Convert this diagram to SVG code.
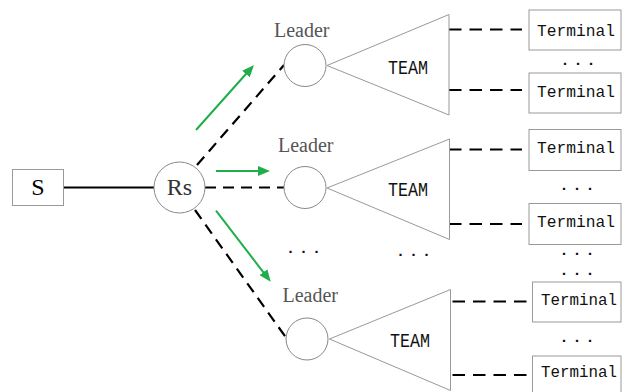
<svg xmlns="http://www.w3.org/2000/svg" width="622" height="392" viewBox="0 0 622 392">
  <style>
    .box { fill: #fff; stroke: #999; stroke-width: 1; }
    .circ { fill: #fff; stroke: #888; stroke-width: 1; }
    .tri { fill: #fff; stroke: #999; stroke-width: 1; }
    .solid { stroke: #000; stroke-width: 2; fill: none; }
    .dash { stroke: #000; stroke-width: 2.2; stroke-dasharray: 11 7; fill: none; }
    .tdash { stroke: #000; stroke-width: 2.2; stroke-dasharray: 12.5 8; fill: none; }
    .flow { stroke: #1fae4b; stroke-width: 2; fill: none; marker-end: url(#head); }
    .term { font-family: "Liberation Mono", monospace; font-size: 16.5px; fill: #111; }
    .team { font-family: "Liberation Mono", monospace; font-size: 20px; fill: #111; text-anchor: middle; }
    .lead { font-family: "Liberation Serif", serif; font-size: 20px; fill: #555; }
    .big { font-family: "Liberation Serif", serif; font-size: 24px; text-anchor: middle; }
    .dots { font-family: "Liberation Mono", monospace; font-size: 15px; letter-spacing: 4px; fill: #111; text-anchor: middle; font-weight: bold; }
  </style>
  <defs>
    <marker id="head" markerUnits="userSpaceOnUse" markerWidth="12" markerHeight="10" refX="2" refY="5" orient="auto">
      <path d="M0,0 L12,5 L0,10 z" fill="#1fae4b"/>
    </marker>
  </defs>

  <rect width="622" height="392" fill="#fff"/>

  <!-- connectors -->
  <g id="connectors">
    <line class="solid" x1="63" y1="187.5" x2="154" y2="187.5"/>
    <line class="dash" x1="197" y1="165" x2="284" y2="65"/>
    <line class="dash" x1="205" y1="187.5" x2="284" y2="187.5"/>
    <line class="dash" x1="195" y1="210" x2="287" y2="339"/>

    <line class="flow" x1="196" y1="130" x2="247.3" y2="72.5"/>
    <line class="flow" x1="216" y1="171" x2="260" y2="171"/>
    <line class="flow" x1="216" y1="210.7" x2="264.6" y2="273.8"/>

    <line class="tdash" x1="449" y1="29.5" x2="522" y2="29.5"/>
    <line class="tdash" x1="449" y1="90" x2="522" y2="90"/>
    <line class="tdash" x1="449" y1="149.5" x2="522" y2="149.5"/>
    <line class="tdash" x1="449" y1="224" x2="522" y2="224"/>
    <line class="tdash" x1="452.5" y1="301.5" x2="528" y2="301.5"/>
    <line class="tdash" x1="452.5" y1="375" x2="528" y2="375"/>
  </g>

  <!-- source -->
  <g id="source">
    <rect class="box" x="12.5" y="169.5" width="51" height="36"/>
    <text class="big" x="38" y="195" fill="#000">S</text>
  </g>

  <!-- relay -->
  <g id="relay">
    <circle class="circ" cx="179.5" cy="187.5" r="25.5"/>
    <text class="big" x="179.5" y="195" fill="#333">Rs</text>
  </g>

  <!-- teams -->
  <g id="team1">
    <text class="lead" x="274" y="36.5">Leader</text>
    <circle class="circ" cx="305" cy="65.5" r="21"/>
    <polygon class="tri" points="327,65.5 449,14.5 449,115"/>
    <text class="team" x="408" y="74" textLength="40" lengthAdjust="spacingAndGlyphs">TEAM</text>
  </g>
  <g id="team2">
    <text class="lead" x="278" y="151.5">Leader</text>
    <circle class="circ" cx="305" cy="187.5" r="21"/>
    <polygon class="tri" points="327,188 449.5,139 449.5,239.5"/>
    <text class="team" x="408" y="196" textLength="40" lengthAdjust="spacingAndGlyphs">TEAM</text>
  </g>
  <g id="team3">
    <text class="lead" x="282.5" y="301.5">Leader</text>
    <circle class="circ" cx="307" cy="339" r="21"/>
    <polygon class="tri" points="329.5,339 450.5,289.5 450.5,390.5"/>
    <text class="team" x="410" y="347" textLength="40" lengthAdjust="spacingAndGlyphs">TEAM</text>
  </g>

  <!-- terminals -->
  <g id="terminal1">
    <rect class="box" x="529" y="10" width="92" height="40"/>
    <text class="term" x="537" y="35.5" textLength="78" lengthAdjust="spacingAndGlyphs">Terminal</text>
  </g>
  <g id="terminal2">
    <rect class="box" x="529" y="73" width="92" height="40"/>
    <text class="term" x="537" y="96.5" textLength="78" lengthAdjust="spacingAndGlyphs">Terminal</text>
  </g>
  <g id="terminal3">
    <rect class="box" x="529" y="129.5" width="92" height="41"/>
    <text class="term" x="537" y="153" textLength="78" lengthAdjust="spacingAndGlyphs">Terminal</text>
  </g>
  <g id="terminal4">
    <rect class="box" x="529" y="203.5" width="92" height="41"/>
    <text class="term" x="537" y="226.5" textLength="78" lengthAdjust="spacingAndGlyphs">Terminal</text>
  </g>
  <g id="terminal5">
    <rect class="box" x="532.5" y="282" width="88.5" height="40"/>
    <text class="term" x="541" y="304.5" textLength="76" lengthAdjust="spacingAndGlyphs">Terminal</text>
  </g>
  <g id="terminal6">
    <rect class="box" x="532.5" y="356" width="88.5" height="42"/>
    <text class="term" x="541" y="376.5" textLength="76" lengthAdjust="spacingAndGlyphs">Terminal</text>
  </g>

  <!-- ellipses -->
  <g id="ellipses">
    <text class="dots" x="580" y="64.5">...</text>
    <text class="dots" x="579" y="189.5">...</text>
    <text class="dots" x="579" y="254.5">...</text>
    <text class="dots" x="579" y="274.5">...</text>
    <text class="dots" x="579" y="342">...</text>
    <text class="dots" x="305.5" y="252.5">...</text>
    <text class="dots" x="415.5" y="256">...</text>
  </g>
</svg>
